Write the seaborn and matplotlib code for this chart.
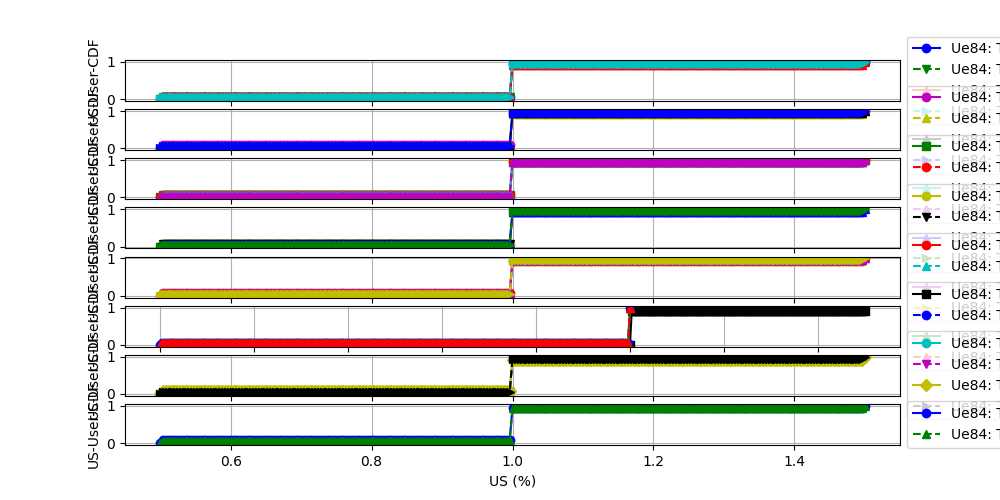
import matplotlib
matplotlib.use("Agg")
import matplotlib.pyplot as plt
import numpy as np
import seaborn as sns

# x thresholds (US %) at which each CDF was evaluated
us_grid = np.linspace(0.5, 1.5, 251)
us_grid_low = np.linspace(0.0, 1.0, 251)   # panel 6, lower part
us_grid_high = np.linspace(1.0, 1.5, 126)  # panel 6, upper part

# per panel: line colour, marker, linestyle
panel_colors = [
    ["b", "g", "r", "c"],
    ["m", "y", "k", "b"],
    ["g", "r", "c", "m"],
    ["y", "k", "b", "g"],
    ["r", "c", "m", "y"],
    ["k", "b", "g", "r"],
    ["c", "m", "y", "k"],
    ["b", "g"],
]
panel_markers = [
    ["o", "v", "^", ">"],
    ["o", "^", "^", ">"],
    ["s", "o", "^", "^"],
    ["o", "v", "^", ">"],
    ["o", "^", "^", ">"],
    ["s", "o", "^", "^"],
    ["o", "v", "D", ">"],
    ["o", "^"],
]
panel_styles = ["-", "--", "-", "--"]

# CDF level below US=1.0 and above US=1.0 for every line
cdf_low = [
    [0.06, 0.06, 0.08, 0.05],
    [0.08, 0.06, 0.05, 0.05],
    [0.06, 0.06, 0.06, 0.05],
    [0.06, 0.06, 0.08, 0.05],
    [0.06, 0.06, 0.08, 0.05],
    [0.05, 0.05, 0.05, 0.05],
    [0.06, 0.06, 0.09, 0.05],
    [0.08, 0.05],
]
cdf_high = [
    [0.94, 0.94, 0.92, 0.95],
    [0.95, 0.92, 0.95, 0.95],
    [0.94, 0.94, 0.95, 0.95],
    [0.94, 0.94, 0.92, 0.95],
    [0.94, 0.95, 0.95, 0.95],
    [0.92, 1.00, 1.00, 1.00],
    [0.94, 0.94, 0.92, 0.95],
    [0.95, 0.95],
]
labels = ["Ue84: TTI %d" % i for i in range(30)]


def cdf_curve(x, lo, hi):
    y = np.where(x < 1.0, lo, hi).astype(float)
    y[0] = 0.0
    y[-1] = 1.0
    return y


fig, axes = plt.subplots(8, 1, figsize=(10, 5))
n = 0
for p, ax in enumerate(axes):
    for j, col in enumerate(panel_colors[p]):
        x = us_grid
        if p == 5:
            x = us_grid_high if j == 0 else us_grid_low
        y = cdf_curve(x, cdf_low[p][j], cdf_high[p][j])
        if p == 5 and j == 0:
            y[1:] = cdf_high[p][j]
        sns.lineplot(x=x, y=y, ax=ax, color=col, marker=panel_markers[p][j],
                     linestyle=panel_styles[j], markeredgecolor=col,
                     markeredgewidth=1.0, markersize=6, linewidth=1.5,
                     estimator=None, sort=False, label=labels[n])
        n += 1
    ax.grid(True)
    ax.set_yticks([0, 1])
    ax.set_ylabel("US-User-CDF")
    ax.legend(loc="center left", bbox_to_anchor=(1, 0.5))
    if p < 7:
        ax.tick_params(labelbottom=False)
    else:
        ax.set_xlabel("US (%)")

plt.savefig("out.png", dpi=100)
